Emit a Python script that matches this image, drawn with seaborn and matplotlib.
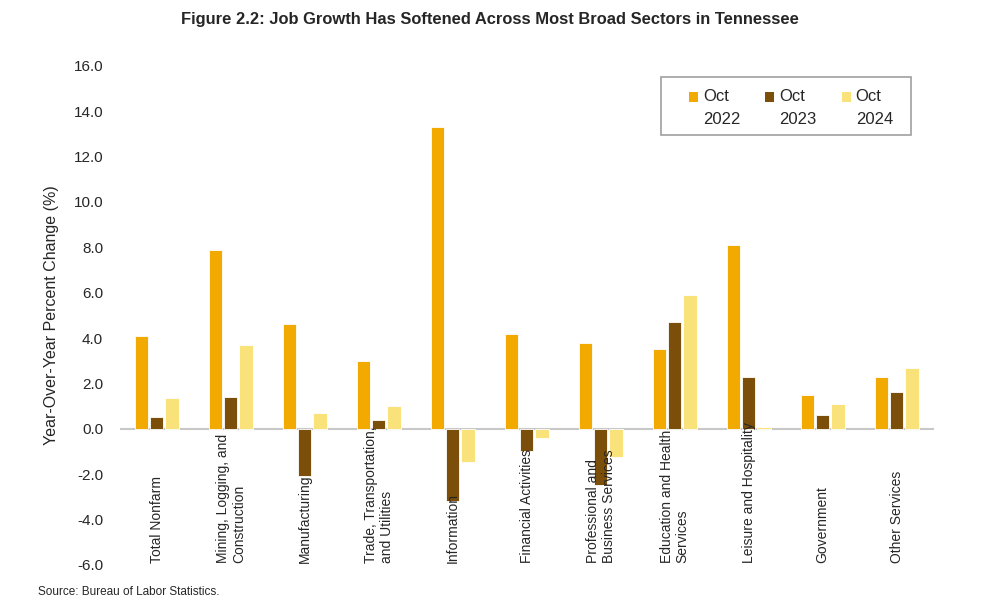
import matplotlib.pyplot as plt
import matplotlib.patches as mpatches
from matplotlib.legend_handler import HandlerPatch
import numpy as np
import pandas as pd
import seaborn as sns

# ── data ────────────────────────────────────────────────────
SECTORS = [
    "Total Nonfarm",
    "Mining, Logging, and\nConstruction",
    "Manufacturing",
    "Trade, Transportation,\nand Utilities",
    "Information",
    "Financial Activities",
    "Professional and\nBusiness Services",
    "Education and Health\nServices",
    "Leisure and Hospitality",
    "Government",
    "Other Services",
]
PERIODS = ["Oct\n2022", "Oct\n2023", "Oct\n2024"]
OCT_2022 = [4.1, 7.9, 4.6, 3.0, 13.3, 4.2, 3.8, 3.5, 8.1, 1.5, 2.3]
OCT_2023 = [0.5, 1.4, -2.1, 0.4, -3.2, -1.0, -2.5, 4.7, 2.3, 0.6, 1.6]
OCT_2024 = [1.35, 3.7, 0.7, 1.0, -1.45, -0.4, -1.25, 5.9, 0.1, 1.1, 2.7]
Y_TICKS = np.arange(-6, 17, 2)

COLORS = ["#F2A900", "#7B4F0A", "#F9E27A"]

df = pd.DataFrame({
    "sector": SECTORS * 3,
    "period": [p for p in PERIODS for _ in SECTORS],
    "value": OCT_2022 + OCT_2023 + OCT_2024,
})

sns.set_theme(style="white")
plt.rcParams["font.family"] = ["Liberation Sans", "DejaVu Sans"]
plt.rcParams["axes.unicode_minus"] = False

fig = plt.figure(figsize=(9.89, 6.10), dpi=100)
ax = fig.add_axes([0.121, 0.074, 0.823, 0.818])

sns.barplot(
    data=df, x="sector", y="value", hue="period",
    order=SECTORS, hue_order=PERIODS, palette=COLORS, saturation=1,
    width=0.62, gap=0.12, edgecolor="white", linewidth=0.6,
    ax=ax,
)

ax.axhline(0, color="#C8C8C8", linewidth=1.5, zorder=0)
ax.set_axisbelow(False)
for s in ax.spines.values():
    s.set_visible(False)

ax.set_ylim(-6, 16)
ax.set_yticks(Y_TICKS)
ax.set_yticklabels([f"{v:.1f}" for v in Y_TICKS], fontsize=11)
ax.set_ylabel("Year-Over-Year Percent Change (%)", fontsize=11.5, labelpad=10)
ax.set_xlabel("")

ax.tick_params(axis="both", length=0)
ax.tick_params(axis="y", pad=12)
ax.tick_params(axis="x", pad=-1)
for lbl in ax.get_xticklabels():
    lbl.set_rotation(90)
    lbl.set_va("bottom")
    lbl.set_ha("center")
    lbl.set_multialignment("left")
    lbl.set_fontsize(10)
    lbl.set_linespacing(1.2)


# legend swatch sits level with the first line ("Oct")
def top_swatch(legend, orig_handle, xdescent, ydescent, width, height, fontsize):
    return mpatches.Rectangle((-xdescent, -ydescent + 8), width, height)


ax.get_legend().remove()
handles = [mpatches.Patch(facecolor=c, edgecolor="none") for c in COLORS]
leg = ax.legend(
    handles, PERIODS,
    loc="upper left", bbox_to_anchor=(0.699, 0.954), ncol=3,
    frameon=False, fontsize=12, handlelength=0.55, handleheight=0.55,
    handletextpad=0.3, columnspacing=1.5, borderpad=0, borderaxespad=0,
    handler_map={mpatches.Patch: HandlerPatch(patch_func=top_swatch)},
)
for t in leg.get_texts():
    t.set_linespacing(1.7)
ax.add_patch(mpatches.Rectangle(
    (0.665, 0.862), 0.307, 0.116, transform=ax.transAxes,
    facecolor="white", edgecolor="#A0A0A0", linewidth=1.2, zorder=4,
))
leg.set_zorder(5)

fig.text(
    0.4955, 0.968,
    "Figure 2.2: Job Growth Has Softened Across Most Broad Sectors in Tennessee",
    ha="center", va="center", fontsize=11.9, fontweight="bold",
)
fig.text(
    0.038, 0.03, "Source: Bureau of Labor Statistics.",
    ha="left", va="center", fontsize=8.5,
)

fig.savefig("out.png", dpi=100)
